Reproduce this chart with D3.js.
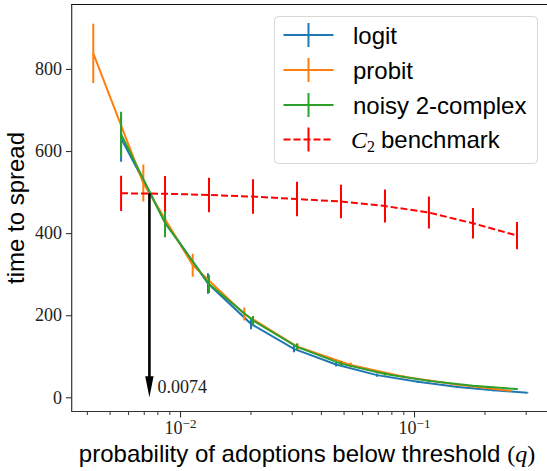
<!DOCTYPE html>
<html>
<head>
<meta charset="utf-8">
<script src="https://cdn.jsdelivr.net/npm/d3@7"></script>
<style>
  html, body { margin: 0; padding: 0; background: #fff; }
  svg { display: block; }
</style>
</head>
<body>
<div id="chart"></div>
<script>
// ---- data ----
const seriesNames = ["logit", "probit", "noisy 2-complex", "benchmark"];

const qLogit = [0.0056, 0.00863, 0.01317, 0.02011, 0.03069, 0.04643, 0.06943, 0.1038, 0.1538, 0.2188, 0.3051];
const tLogit = [631, 428, 277, 179, 118, 80, 54, 38, 25, 17, 11];
const eLogit = [57, 30, 25, 13, 8, 5, 4, 3, 2, 2, 1];

const qProbit = [0.00426, 0.00697, 0.01133, 0.01883, 0.03178, 0.05363, 0.09018, 0.1519, 0.2572];
const tProbit = [838, 522, 322, 203, 123, 79, 50, 31, 16];
const eProbit = [72, 45, 28, 16, 8, 6, 4, 3, 2];

const qNoisy = [0.0056, 0.00863, 0.0133, 0.02051, 0.03162, 0.04874, 0.07514, 0.1158, 0.1786, 0.2754];
const tNoisy = [641, 425, 276, 187, 123, 82, 57, 40, 28, 20];
const eNoisy = [55, 35, 22, 11, 8, 5, 4, 3, 2, 2];

const qBench = [0.0056, 0.00863, 0.0133, 0.02051, 0.03162, 0.04874, 0.07514, 0.1158, 0.1786, 0.2754];
const tBench = [497, 496, 493, 489, 483, 477, 466, 450, 424, 394];
const eBench = [43, 43, 42, 42, 42, 41, 40, 39, 37, 33];

const yTicks = [0, 200, 400, 600, 800];
const xMajorTicks = [0.01, 0.1];
const xMajorExp = ["−2", "−1"];
const xMinorTicks = [0.004, 0.005, 0.006, 0.007, 0.008, 0.009,
                     0.02, 0.03, 0.04, 0.05, 0.06, 0.07, 0.08, 0.09, 0.2, 0.3];

const arrowQ = 0.0074;
const arrowFrom = 497;
const arrowTo = 0;
const arrowLabel = "0.0074";

// ---- layout ----
const W = 547, H = 471;
const L = 72, R = 548, T = 4.5, B = 411.5;

const svg = d3.select("#chart").append("svg")
  .attr("width", W).attr("height", H)
  .attr("viewBox", `0 0 ${W} ${H}`);

const x = d3.scaleLog().domain([0.003455, 0.3737]).range([L, R]);
const y = d3.scaleLinear().domain([-34.6, 957]).range([B, T]);

const colors = { logit: "#1f77b4", probit: "#ff7f0e", noisy: "#2ca02c", bench: "#ff0000" };

svg.append("defs").append("clipPath").attr("id", "clip")
  .append("rect").attr("x", L).attr("y", T).attr("width", R - L).attr("height", B - T);

const plot = svg.append("g").attr("clip-path", "url(#clip)");

function drawSeries(qs, ts, es, color, dash) {
  const pts = qs.map((q, i) => ({ q, t: ts[i], e: es[i] }));
  const line = d3.line().x(d => x(d.q)).y(d => y(d.t));
  const g = plot.append("g");
  g.append("path").datum(pts).attr("d", line)
    .attr("fill", "none").attr("stroke", color).attr("stroke-width", 2)
    .attr("stroke-dasharray", dash || null);
  g.selectAll("line.err").data(pts).enter().append("line")
    .attr("x1", d => x(d.q)).attr("x2", d => x(d.q))
    .attr("y1", d => y(d.t - d.e)).attr("y2", d => y(d.t + d.e))
    .attr("stroke", color).attr("stroke-width", 2);
}

drawSeries(qLogit, tLogit, eLogit, colors.logit);
drawSeries(qProbit, tProbit, eProbit, colors.probit);
drawSeries(qNoisy, tNoisy, eNoisy, colors.noisy);
drawSeries(qBench, tBench, eBench, colors.bench, "7,3");

// ---- arrow annotation ----
const ax = x(arrowQ);
const headLen = 21, headHalf = 4.2;
svg.append("line")
  .attr("x1", ax).attr("x2", ax)
  .attr("y1", y(arrowFrom)).attr("y2", y(arrowTo) - headLen + 2)
  .attr("stroke", "#000").attr("stroke-width", 2.6);
svg.append("path")
  .attr("d", `M${ax - headHalf},${y(arrowTo) - headLen} L${ax + headHalf},${y(arrowTo) - headLen} L${ax},${y(arrowTo)} Z`)
  .attr("fill", "#000");
svg.append("text")
  .attr("x", ax + 8).attr("y", y(arrowTo) - 4)
  .attr("font-family", "'Liberation Serif', 'DejaVu Serif', serif")
  .attr("font-size", 18).attr("fill", "#222")
  .text(arrowLabel);

// ---- axes ----
const spineColor = "#333";
// spines
svg.append("line").attr("x1", L - 0.3).attr("x2", L - 0.3).attr("y1", T).attr("y2", B)
  .attr("stroke", spineColor).attr("stroke-width", 1.2);
svg.append("line").attr("x1", L - 0.9).attr("x2", R).attr("y1", B).attr("y2", B)
  .attr("stroke", spineColor).attr("stroke-width", 1.2);
svg.append("line").attr("x1", L - 0.9).attr("x2", R).attr("y1", T).attr("y2", T)
  .attr("stroke", "#111").attr("stroke-width", 1.2);

// y axis
const yAxis = d3.axisLeft(y).tickValues(yTicks).tickSize(6).tickPadding(4).tickFormat(d3.format("d"));
const gy = svg.append("g").attr("transform", `translate(${L},0)`).call(yAxis);
gy.select(".domain").remove();
gy.selectAll(".tick line").attr("stroke", spineColor).attr("stroke-width", 1.1);
gy.selectAll(".tick text")
  .attr("font-family", "'Liberation Serif', 'DejaVu Serif', serif")
  .attr("font-size", 18).attr("fill", "#222");

// x axis (major + minor)
const xAxisMinor = d3.axisBottom(x).tickValues(xMinorTicks).tickSize(3.5).tickFormat("");
const gxm = svg.append("g").attr("transform", `translate(0,${B})`).call(xAxisMinor);
gxm.select(".domain").remove();
gxm.selectAll(".tick line").attr("stroke", spineColor).attr("stroke-width", 1);

const xAxisMajor = d3.axisBottom(x).tickValues(xMajorTicks).tickSize(6).tickFormat("");
const gx = svg.append("g").attr("transform", `translate(0,${B})`).call(xAxisMajor);
gx.select(".domain").remove();
gx.selectAll(".tick line").attr("stroke", spineColor).attr("stroke-width", 1.1);
gx.selectAll(".tick").each(function (d, i) {
  const t = d3.select(this).append("text")
    .attr("x", 0).attr("y", 22.5)
    .attr("text-anchor", "middle")
    .attr("font-family", "'Liberation Serif', 'DejaVu Serif', serif")
    .attr("fill", "#222");
  t.append("tspan").attr("font-size", 18).text("10");
  t.append("tspan").attr("font-size", 13).attr("dy", -6).text(xMajorExp[i]);
});

// axis labels
const xl = svg.append("text")
  .attr("x", (L + R) / 2 - 3).attr("y", 461.5)
  .attr("text-anchor", "middle")
  .attr("font-family", "'Liberation Sans', Arial, sans-serif")
  .attr("font-size", 24).attr("fill", "#000");
xl.append("tspan").text("probability of adoptions below threshold ");
xl.append("tspan").attr("font-family", "'Liberation Serif', 'DejaVu Serif', serif").text("(");
xl.append("tspan").attr("font-family", "'Liberation Serif', 'DejaVu Serif', serif").attr("font-style", "italic").text("q");
xl.append("tspan").attr("font-family", "'Liberation Serif', 'DejaVu Serif', serif").text(")");

svg.append("text")
  .attr("transform", `translate(24,${(T + B) / 2}) rotate(-90)`)
  .attr("text-anchor", "middle")
  .attr("font-family", "'Liberation Sans', Arial, sans-serif")
  .attr("font-size", 24).attr("fill", "#000")
  .text("time to spread");

// ---- legend ----
const lg = svg.append("g");
lg.append("rect")
  .attr("x", 274.5).attr("y", 16.5).attr("width", 263).attr("height", 147)
  .attr("rx", 4).attr("ry", 4)
  .attr("fill", "#fff").attr("fill-opacity", 0.85)
  .attr("stroke", "#d6d6d6").attr("stroke-width", 1);

const legendItems = [
  { label: seriesNames[0], color: colors.logit, dash: null },
  { label: seriesNames[1], color: colors.probit, dash: null },
  { label: seriesNames[2], color: colors.noisy, dash: null },
  { label: seriesNames[3], color: colors.bench, dash: "7,3", math: true }
];
const rowY = [35, 70, 105, 139.5];
legendItems.forEach((it, i) => {
  const cy = rowY[i];
  lg.append("line").attr("x1", 283.5).attr("x2", 333.5).attr("y1", cy).attr("y2", cy)
    .attr("stroke", it.color).attr("stroke-width", 2).attr("stroke-dasharray", it.dash);
  lg.append("line").attr("x1", 308.5).attr("x2", 308.5).attr("y1", cy - 12).attr("y2", cy + 12)
    .attr("stroke", it.color).attr("stroke-width", 2);
  const t = lg.append("text").attr("x", 353).attr("y", cy + 8.5)
    .attr("font-family", "'Liberation Sans', Arial, sans-serif")
    .attr("font-size", 24).attr("fill", "#000");
  if (it.math) {
    t.attr("x", 351);
    t.append("tspan").attr("font-family", "'Liberation Serif', 'DejaVu Serif', serif")
      .attr("font-style", "italic").text("C");
    t.append("tspan").attr("font-family", "'Liberation Serif', 'DejaVu Serif', serif")
      .attr("font-size", 16).attr("dy", 4).text("2");
    t.append("tspan").attr("dy", -4).attr("dx", 6).text(it.label);
  } else {
    t.text(it.label);
  }
});
</script>
</body>
</html>
